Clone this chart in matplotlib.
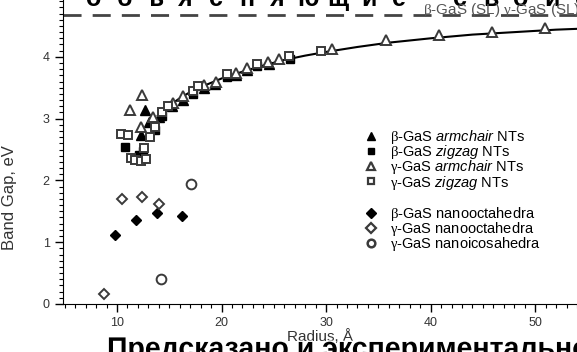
import matplotlib
matplotlib.use("Agg")
import matplotlib.pyplot as plt
from matplotlib.lines import Line2D
from matplotlib.ticker import MultipleLocator
import matplotlib.patheffects as pe

plt.rcParams["font.family"] = ["Liberation Sans", "DejaVu Sans"]
plt.rcParams["mathtext.fontset"] = "custom"
plt.rcParams["mathtext.rm"] = "Liberation Serif"
plt.rcParams["mathtext.it"] = "Liberation Sans:italic"

# nanotubes
beta_arm_x = [12.68, 12.30, 13.10, 14.0, 15.3, 16.3, 18.3, 19.4, 21.4, 22.4, 24.5]
beta_arm_y = [3.14, 2.74, 2.95, 3.02, 3.20, 3.30, 3.49, 3.56, 3.70, 3.78, 3.88]
beta_zz_x = [10.77, 12.13, 12.5, 13.6, 14.3, 17.3, 20.5, 23.4, 26.5]
beta_zz_y = [2.54, 2.41, 2.47, 2.82, 3.05, 3.40, 3.68, 3.85, 3.97]
gamma_arm_x = [12.36, 11.24, 12.27, 13.42, 15.33, 16.34, 18.33, 19.44, 21.39, 22.41,
               24.48, 25.53, 30.55, 35.7, 40.8, 45.9, 50.9]
gamma_arm_y = [3.38, 3.14, 2.86, 3.03, 3.26, 3.36, 3.55, 3.60, 3.74, 3.82,
               3.92, 3.97, 4.12, 4.27, 4.35, 4.41, 4.46]
gamma_zz_x = [10.38, 11.02, 13.16, 12.6, 11.3, 11.72, 12.27, 12.78, 13.64, 14.28,
              14.88, 17.30, 17.78, 20.55, 23.43, 26.49, 29.49]
gamma_zz_y = [2.75, 2.74, 2.71, 2.52, 2.37, 2.33, 2.32, 2.34, 2.87, 3.11,
              3.20, 3.44, 3.53, 3.72, 3.89, 4.02, 4.09]

# nanoclusters
beta_oct_x = [9.81, 11.85, 13.83, 16.25]
beta_oct_y = [1.12, 1.36, 1.48, 1.43]
gamma_oct_x = [8.76, 10.48, 12.36, 14.02]
gamma_oct_y = [0.16, 1.70, 1.73, 1.62]
gamma_ico_x = [14.2, 17.08]
gamma_ico_y = [0.40, 1.94]

# fitted curve through the tube data
fit_x = [13.9, 15, 16, 17, 18, 19, 20, 22, 24, 26, 28, 30, 33, 36, 40, 44, 48, 52, 55]
fit_y = [3.05, 3.21, 3.33, 3.43, 3.51, 3.58, 3.65, 3.76, 3.86, 3.95, 4.02, 4.08,
         4.16, 4.23, 4.30, 4.36, 4.40, 4.44, 4.46]

sl_gap = 4.67  # single-layer band gap

W, H = 577, 352
fig = plt.figure(figsize=(W / 100, H / 100), dpi=100)
ax = fig.add_axes([63 / W, 48 / H, 514 / W, 304 / H])
ax.patch.set_visible(False)

edge = "#3a3a3a"
ax.axhline(sl_gap, color="#444444", lw=2, ls=(0, (6.5, 4)), zorder=1)
ax.plot(fit_x, fit_y, "-", color="black", lw=1.5, zorder=2)

ax.plot(beta_arm_x, beta_arm_y, "^", ls="none", ms=7, color="black", zorder=3)
ax.plot(beta_zz_x, beta_zz_y, "s", ls="none", ms=5.5, color="black", zorder=3)
ax.plot(gamma_arm_x, gamma_arm_y, "^", ls="none", ms=7, mfc="white", mec=edge, mew=1.4, zorder=4)
ax.plot(gamma_zz_x, gamma_zz_y, "s", ls="none", ms=5.5, mfc="white", mec=edge, mew=1.4, zorder=4)
ax.plot(beta_oct_x, beta_oct_y, "D", ls="none", ms=5.5, color="black", zorder=3)
ax.plot(gamma_oct_x, gamma_oct_y, "D", ls="none", ms=5.5, mfc="white", mec=edge, mew=1.4, zorder=3)
ax.plot(gamma_ico_x, gamma_ico_y, "o", ls="none", ms=7, mfc="white", mec=edge, mew=1.4, zorder=3)

tube_handles = [
    Line2D([], [], marker="^", ls="none", ms=6, color="black"),
    Line2D([], [], marker="s", ls="none", ms=5, color="black"),
    Line2D([], [], marker="^", ls="none", ms=6, mfc="white", mec=edge, mew=1.6),
    Line2D([], [], marker="s", ls="none", ms=5, mfc="white", mec=edge, mew=1.6),
]
tube_labels = [
    r"$\mathrm{β}$-GaS $\mathit{armchair}$ NTs",
    r"$\mathrm{β}$-GaS $\mathit{zigzag}$ NTs",
    r"$\mathrm{γ}$-GaS $\mathit{armchair}$ NTs",
    r"$\mathrm{γ}$-GaS $\mathit{zigzag}$ NTs",
]
cluster_handles = [
    Line2D([], [], marker="D", ls="none", ms=5, color="black"),
    Line2D([], [], marker="D", ls="none", ms=5, mfc="white", mec=edge, mew=1.6),
    Line2D([], [], marker="o", ls="none", ms=5.5, mfc="white", mec=edge, mew=1.8),
]
cluster_labels = [
    r"$\mathrm{β}$-GaS nanooctahedra",
    r"$\mathrm{γ}$-GaS nanooctahedra",
    r"$\mathrm{γ}$-GaS nanoicosahedra",
]
leg_kw = dict(frameon=False, fontsize=10.5, handlelength=1.0, handletextpad=0.8,
              labelspacing=-0.2, borderpad=0)
leg1 = ax.legend(tube_handles, tube_labels, loc="upper left",
                 bbox_to_anchor=(0.571, 0.602), **leg_kw)
ax.add_artist(leg1)
ax.legend(cluster_handles, cluster_labels, loc="upper left",
          bbox_to_anchor=(0.571, 0.349), **leg_kw)

ax.set_xlim(4.83, 54.0)
ax.set_ylim(0, 4.92)
ax.xaxis.set_major_locator(MultipleLocator(10))
ax.xaxis.set_minor_locator(MultipleLocator(1))
ax.yaxis.set_major_locator(MultipleLocator(1))
ax.yaxis.set_minor_locator(MultipleLocator(0.1))
ax.tick_params(which="major", direction="out", length=6, width=1, labelsize=9,
               labelcolor="#333333")
ax.tick_params(which="minor", direction="out", length=3, width=0.8)
ax.spines["top"].set_visible(False)
ax.spines["right"].set_visible(False)
ax.set_xlabel("Radius, Å", fontsize=11, color="#333333", labelpad=0)
ax.set_ylabel("Band Gap, eV", fontsize=12, color="#333333")
ax.yaxis.set_label_coords(-0.09, 0.35)

# slide caption lines that frame the plot (behind the axes content)
top_word = "объясняющие свойства"
for i, ch in enumerate(top_word):
    fig.text((94 + 30.5 * i) / W, 1 - 6 / H, ch, fontsize=18, fontweight="bold",
             ha="center", va="baseline", color="black", zorder=-1)

ax.text(39.3, sl_gap + 0.02, r"$\mathrm{β}$-GaS (SL) $\mathrm{γ}$-GaS (SL)",
        fontsize=11, color="#555555", va="baseline", ha="left", zorder=5)

halo = [pe.withStroke(linewidth=2, foreground="white")]
fig.text(107 / W, -5 / H, "Предсказано и экспериментально подтверждено",
         fontsize=20.5, fontweight="bold", ha="left", va="baseline", color="black",
         path_effects=halo)

fig.savefig("out.png", dpi=100)
